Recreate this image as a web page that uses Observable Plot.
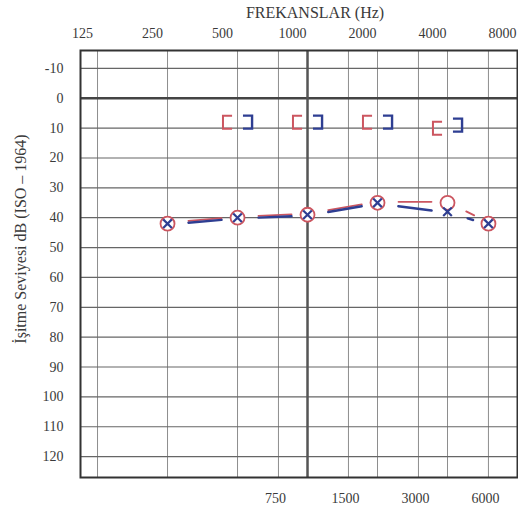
<!DOCTYPE html>
<html>
<head>
<meta charset="utf-8">
<script src="https://cdn.jsdelivr.net/npm/d3@7"></script>
<script src="https://cdn.jsdelivr.net/npm/@observablehq/plot@0.6"></script>
<style>
  html, body { margin: 0; padding: 0; background: #fff; }
  svg { display: block; }
  svg, svg text { font-family: "Liberation Serif", "Times New Roman", serif !important; }
</style>
</head>
<body>
<div id="chart"></div>
<script>
// --- data ---
const topFreqTicks = [125, 250, 500, 1000, 2000, 4000, 8000];
const bottomFreqTicks = [750, 1500, 3000, 6000];
const gridFreqs = [125, 250, 500, 750, 1000, 1500, 2000, 3000, 4000, 6000, 8000];
const dbTicks = [-10, 0, 10, 20, 30, 40, 50, 60, 70, 80, 90, 100, 110, 120];

const acFreqs = [250, 500, 1000, 2000, 4000, 6000];
const rightAC = [42, 40, 39, 35, 35, 42];   // red circles
const leftAC  = [42, 40, 39, 35, 38, 42];   // blue crosses

const bcFreqs = [500, 1000, 2000, 4000];
const rightBC = [8, 8, 8, 10];  // red "["
const leftBC  = [8, 8, 8, 9];   // blue "]"

const titleX = "FREKANSLAR (Hz)";
const titleY = "İşitme Seviyesi dB (ISO – 1964)";

const RED = "#cc5660";
const BLUE = "#2e3e92";
const TXT = "#3a3a3a";

const rightPts = acFreqs.map((f, i) => ({f, db: rightAC[i]}));
const leftPts = acFreqs.map((f, i) => ({f, db: leftAC[i]}));
const segs = pts => pts.slice(1).map((p, i) => ({f1: pts[i].f, d1: pts[i].db, f2: p.f, d2: p.db}));
const rightBone = bcFreqs.map((f, i) => ({f, db: rightBC[i]}));
const leftBone = bcFreqs.map((f, i) => ({f, db: leftBC[i]}));

const bracketOpenRight = {draw(ctx, size) {
  const r = Math.sqrt(size / Math.PI);
  ctx.moveTo(r * 0.7, -r); ctx.lineTo(-r * 0.7, -r); ctx.lineTo(-r * 0.7, r); ctx.lineTo(r * 0.7, r);
}};
const bracketOpenLeft = {draw(ctx, size) {
  const r = Math.sqrt(size / Math.PI);
  ctx.moveTo(-r * 0.7, -r); ctx.lineTo(r * 0.7, -r); ctx.lineTo(r * 0.7, r); ctx.lineTo(-r * 0.7, r);
}};

const chart = Plot.plot({
  width: 518,
  height: 512,
  marginLeft: 80,
  marginRight: 1,
  marginTop: 50,
  marginBottom: 35,
  style: {fontSize: "14px", color: TXT, background: "#fff"},
  x: {type: "log", domain: [105.6, 8000], axis: null},
  y: {domain: [-16, 127], reverse: true, axis: null},
  marks: [
    Plot.ruleX(gridFreqs, {stroke: "#8e8e8e", strokeWidth: 1}),
    Plot.ruleY(dbTicks, {stroke: "#666", strokeWidth: 1.2}),
    Plot.ruleY([0], {stroke: "#444", strokeWidth: 2.5}),
    Plot.ruleX([1000], {stroke: "#555", strokeWidth: 2.5}),
    Plot.frame({stroke: "#333", strokeWidth: 2}),
    // frequency labels (top and bottom rows)
    Plot.text(topFreqTicks, {x: d => d, text: d => String(d), frameAnchor: "top", dy: -17, dx: -15, lineAnchor: "middle", textAnchor: "middle", fontSize: 14, fill: TXT}),
    Plot.text(bottomFreqTicks, {x: d => d, text: d => String(d), frameAnchor: "bottom", dy: 21, dx: -3, lineAnchor: "middle", textAnchor: "middle", fontSize: 14, fill: TXT}),
    // dB labels
    Plot.text(dbTicks, {y: d => d, text: d => String(d), frameAnchor: "left", dx: -17, textAnchor: "end", lineAnchor: "middle", fontSize: 14, fill: TXT}),
    Plot.text([titleX], {frameAnchor: "top", dx: 16, dy: -38, fontSize: 16, fill: TXT, lineAnchor: "middle", textAnchor: "middle"}),
    Plot.text([titleY], {frameAnchor: "left", dx: -60, dy: -25, rotate: -90, fontSize: 16, fill: TXT, lineAnchor: "middle", textAnchor: "middle"}),
    // connecting segments
    Plot.arrow(segs(rightPts), {x1: "f1", y1: "d1", x2: "f2", y2: "d2", headLength: 0, insetStart: 21, insetEnd: 16, bend: 0, stroke: RED, strokeWidth: 1.8, dy: -1}),
    Plot.arrow(segs(leftPts), {x1: "f1", y1: "d1", x2: "f2", y2: "d2", headLength: 0, insetStart: 21, insetEnd: 16, bend: 0, stroke: BLUE, strokeWidth: 2.4, dy: 0.8}),
    // air conduction markers
    Plot.dot(rightPts, {x: "f", y: "db", r: 7, stroke: RED, strokeWidth: 1.8, fill: "white"}),
    Plot.dot(leftPts, {x: "f", y: "db", r: 4, symbol: "times", stroke: BLUE, strokeWidth: 2.2}),
    // bone conduction brackets
    Plot.dot(rightBone, {x: "f", y: "db", r: 6.5, symbol: bracketOpenRight, stroke: RED, strokeWidth: 2, fill: "none", dx: -10}),
    Plot.dot(leftBone, {x: "f", y: "db", r: 6.5, symbol: bracketOpenLeft, stroke: BLUE, strokeWidth: 2.4, fill: "none", dx: 10})
  ]
});
document.getElementById("chart").appendChild(chart);
</script>
</body>
</html>
